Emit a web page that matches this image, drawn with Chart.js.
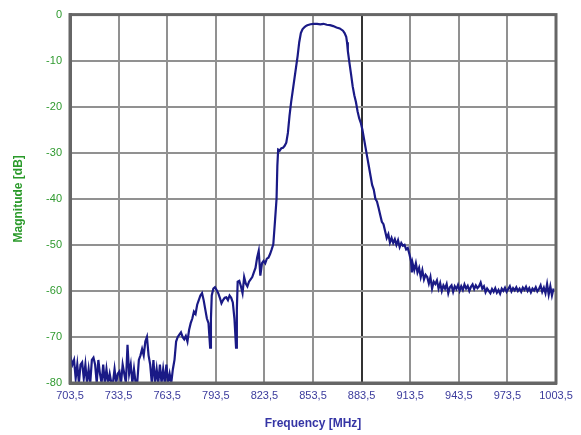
<!DOCTYPE html>
<html>
<head>
<meta charset="utf-8">
<script src="https://cdn.jsdelivr.net/npm/chart.js@4.4.1/dist/chart.umd.min.js"></script>
<style>
  html, body { margin:0; padding:0; background:#fff; }
  #wrap { width:581px; height:435px; }
</style>
</head>
<body>
<div id="wrap"><canvas id="chart"></canvas></div>
<script>
const freqMHz = [
  703.5,705,706,707,708,709,710,711,712,713,714,715,716,717,718,719,720,721,722,723,
  724,725,726,727,728,729,730,731,732,733,734,735,736,737,738,739,740,741,742,743,
  744,745,746,747,748,749,750,751,752,753,754,755,756,757,758,759,760,761,762,763,
  764,765,766,767,768,769,770,771,772,773,774,775,776,777,778,779,780,781,782,783,
  784,785,786,787,788,789,790,790.5,791,792,793,794,795,796,797,798,799,800,801,802,
  803,804,805,806,806.5,807,808,809,810,811,812,813,814,815,816,817,818,819,820,821,
  822,823,824,825,826,827,828,829,830,831,831.5,832,833,834,835,836,837,838,839,840,
  841,842,843,844,845,846,847,848,849,850,851,852,854,856,858,860,862,864,866,868,
  870,872,873,874,874.5,875,876,877,878,879,880,881,882,883,884,885,886,887,888,889,
  890,891,892,893,894,895,896,897,898,899,900,901,902,903,904,905,906,907,908,909,
  910,911,912,913,914,914.5,915,916,917,918,919,920,921,922,923,924,925,926,927,928,
  929,930,931,932,933,934,935,936,937,938,939,940,941,942,943,944,945,946,947,948,
  949,950,951,952,953,954,955,956,957,958,959,960,961,962,963,964,965,966,967,968,
  969,970,971,972,973,974,975,976,977,978,979,980,981,982,983,984,985,986,987,988,
  989,990,991,992,993,994,995,996,997,998,999,1000,1001,1002
];
const magnitudeDb = [
  -74,-76,-75,-79,-76,-80,-76,-75.5,-79,-76,-80,-77,-80,-75,-74.5,-76,-80,-75,-78,-80,
  -76,-80,-77,-80,-78,-80,-80,-77,-80,-78,-77.5,-80,-76,-78,-80,-71.7,-78,-76,-80,-77,
  -80,-80,-75,-74,-72.6,-74,-71,-70,-74,-76,-80,-75,-80,-77,-80,-76,-80,-77,-80,-76,
  -80,-78,-80,-77,-75,-71,-70,-69.5,-69,-70,-70.5,-69.8,-71,-68.5,-67,-66,-64.5,-65,-63,-62,
  -61,-60.5,-62,-64,-66,-67,-72.3,-66,-61,-59.5,-59.2,-59.8,-60.5,-61.5,-62.7,-62,-61.5,-61.4,-62,-61,
  -61.5,-62.5,-66,-72.3,-64,-58,-57.8,-59,-60.5,-57,-58.4,-59,-58,-57.5,-57,-56,-55,-52.8,-51.3,-56.7,
  -54,-53.5,-54,-53,-52.8,-52,-51,-49.9,-45,-40,-32.8,-29.3,-29.5,-29,-28.9,-28.5,-27.8,-25.7,-22,-19,
  -16.5,-14,-11.5,-9,-6,-4,-3.2,-2.8,-2.5,-2.3,-2.2,-2.1,-2.0,-2.0,-2.1,-2.0,-2.2,-2.3,-2.5,-2.8,
  -3.0,-3.5,-4,-4.8,-6,-7.9,-10.5,-13,-15.6,-17.5,-19,-21,-22.5,-23.5,-25,-27,-29,-31,-33,-35,
  -37,-38,-40,-40.6,-42,-43.5,-45,-45.5,-47,-48.5,-47.7,-49.5,-48.5,-49.6,-48.8,-50,-49,-50.5,-49.6,-50.2,
  -50,-51,-50.7,-52,-53.5,-56,-54,-55.5,-54,-56,-55,-57,-55.5,-57.5,-56.5,-57,-58.4,-57,-59.5,-58,
  -58.5,-57.7,-59.5,-58.3,-60,-58.8,-59.5,-58.5,-60.5,-59.2,-58.8,-60.2,-59,-59.6,-58.7,-60,-59,-59.8,-58.6,-59.5,
  -58.9,-60,-59.1,-58.6,-59.6,-58.8,-59.4,-59,-58.2,-59.5,-59,-60.3,-59.5,-60,-60.5,-59.6,-60.2,-59.4,-60.4,-59.8,
  -60.6,-59.5,-60,-59.3,-60.2,-59.6,-59,-60.1,-59.4,-59.9,-59.2,-60,-59.5,-60.2,-59.3,-59.8,-59.1,-60,-59.4,-60.3,
  -59.5,-59.9,-59.2,-60.1,-59.6,-58.8,-60.2,-59.3,-60.5,-58.5,-60.8,-59,-61,-59.5
];
const xTicks = [703.5,733.5,763.5,793.5,823.5,853.5,883.5,913.5,943.5,973.5,1003.5];
const yTicks = [0,-10,-20,-30,-40,-50,-60,-70,-80];

const points = freqMHz.map((f,i)=>({x:f, y:magnitudeDb[i]}));

// frame around the plot area (Chart.js only draws the axis sides)
const framePlugin = {
  id:'frame',
  afterDraw(chart){
    const a = chart.chartArea, c = chart.ctx;
    c.save();
    c.strokeStyle = '#666';
    c.lineWidth = 3;
    c.strokeRect(a.left, a.top, a.right-a.left, a.bottom-a.top);
    c.restore();
  }
};

new Chart(document.getElementById('chart'), {
  type:'line',
  data:{
    datasets:[{
      data: points,
      borderColor:'#1a1a86',
      borderWidth:2.2,
      pointRadius:0,
      tension:0,
      fill:false
    }]
  },
  plugins:[framePlugin],
  options:{
    responsive:true,
    maintainAspectRatio:false,
    animation:false,
    layout:{ padding:{ left:11, top:8, right:25, bottom:4 } },
    plugins:{ legend:{display:false}, tooltip:{enabled:false} },
    scales:{
      x:{
        type:'linear',
        min:703.5, max:1003.5,
        afterBuildTicks(axis){ axis.ticks = xTicks.map(v=>({value:v})); },
        afterFit(axis){ axis.height = 48; },
        grid:{
          color: ctx => (ctx.tick && ctx.tick.value === 883.5) ? '#333' : '#919191',
          lineWidth:2,
          drawTicks:false
        },
        border:{ color:'#666', width:3 },
        ticks:{
          color:'#3a3a9c',
          font:{ family:'Liberation Sans', size:11 },
          padding:6,
          maxRotation:0,
          autoSkip:false,
          callback: v => String(v).replace('.', ',')
        },
        title:{
          display:true,
          text:'Frequency [MHz]',
          color:'#3535a5',
          font:{ family:'Liberation Sans', size:12, weight:'bold' },
          padding:{ top:5, bottom:0 }
        }
      },
      y:{
        min:-80, max:0,
        afterBuildTicks(axis){ axis.ticks = yTicks.map(v=>({value:v})); },
        afterFit(axis){ axis.width = 59; },
        grid:{ color:'#919191', lineWidth:2, drawTicks:false },
        border:{ color:'#666', width:3 },
        ticks:{
          color:'#2f9a2f',
          font:{ family:'Liberation Sans', size:11 },
          padding:8
        },
        title:{
          display:true,
          text:'Magnitude [dB]',
          color:'#2a9a2a',
          font:{ family:'Liberation Sans', size:12, weight:'bold' },
          padding:{ top:0, bottom:4 }
        }
      }
    }
  }
});
</script>
</body>
</html>
